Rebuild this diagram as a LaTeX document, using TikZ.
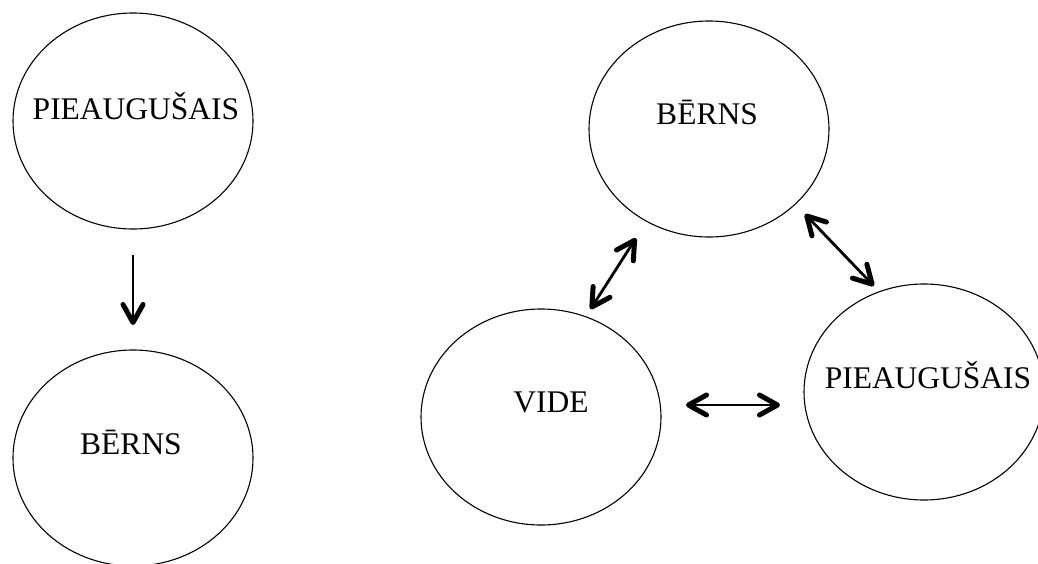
\documentclass[tikz,border=0pt]{standalone}
\usepackage{fontspec}
\setmainfont{Liberation Serif}
\usetikzlibrary{arrows.meta,shapes.geometric}
\begin{document}
\begin{tikzpicture}[x=1pt,y=-1pt,
  bubble/.style={ellipse,draw,line width=1.1pt,minimum width=240pt,minimum height=216pt,inner sep=0pt,outer sep=0pt},
  txt/.style={font=\fontsize{31.5pt}{36pt}\selectfont,inner sep=0pt,text height=0.66em,text depth=0pt},
  barb/.tip={Straight Barb[length=18pt,width=20pt,line width=5pt,round]},
  link/.style={line width=2.8pt,barb-barb},
  onelink/.style={line width=2.6pt,-barb}]
\useasboundingbox[fill=white] (0,0) rectangle (1038,563);
\node[bubble,label={[txt,xshift=3pt,yshift=4.5pt]center:PIEAUGUŠAIS}] (lt) at (133,121) {};
\node[bubble,label={[txt,xshift=-2pt,yshift=7pt]center:BĒRNS}] (lb) at (133,458) {};
\node[bubble,label={[txt,xshift=-2pt,yshift=7.5pt]center:BĒRNS}] (rt) at (709,129) {};
\node[bubble,label={[txt,xshift=10pt,yshift=8pt]center:VIDE}] (vide) at (541,417) {};
\node[bubble,label={[txt,xshift=4pt,yshift=7pt]center:PIEAUGUŠAIS}] (pie) at (924,392) {};
\draw[onelink,shorten <=26pt,shorten >=25pt] (lt.south) -- (lb.north);
\draw[link,shorten <=9pt,shorten >=20pt] (vide.66) -- (rt.236);
\draw[link,shorten <=14pt,shorten >=8pt] (rt.-41) -- (pie.114);
\draw[link,shorten <=25pt,shorten >=24pt] ([yshift=12pt]vide.east) -- ([yshift=-13pt]pie.west);
\end{tikzpicture}
\end{document}
